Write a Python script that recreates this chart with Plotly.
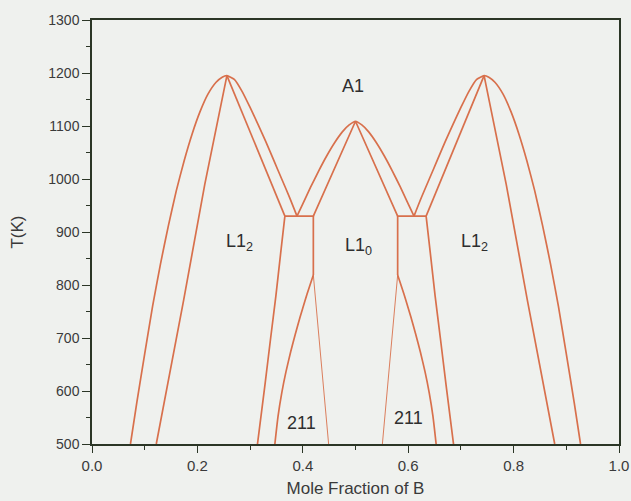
import plotly.graph_objects as go

# ---- data (x = mole fraction of B, T in K) ----
left_dome_x = [0.073, 0.085, 0.100, 0.115, 0.130, 0.145, 0.160, 0.175, 0.190, 0.205, 0.220,
               0.235, 0.247, 0.256, 0.270, 0.285, 0.300, 0.315, 0.330, 0.345, 0.360, 0.375, 0.389]
left_dome_t = [500, 578, 670, 760, 840, 912, 978, 1035, 1085, 1127, 1160,
               1182, 1192, 1195, 1188, 1165, 1135, 1103, 1070, 1035, 1000, 965, 930]

left_inner_l_x = [0.122, 0.174, 0.214, 0.256]
left_inner_l_t = [500, 772, 990, 1195]
left_inner_r_x = [0.256, 0.366]
left_inner_r_t = [1195, 930]

center_dome_x = [0.389, 0.400, 0.415, 0.430, 0.445, 0.460, 0.475, 0.488, 0.500,
                 0.512, 0.525, 0.540, 0.555, 0.570, 0.585, 0.600, 0.611]
center_dome_t = [930, 953, 985, 1015, 1043, 1068, 1089, 1102, 1109,
                 1102, 1089, 1068, 1043, 1015, 985, 953, 930]
center_inner_x = [0.420, 0.500, 0.580]
center_inner_t = [930, 1109, 930]

right_dome_x = [0.611, 0.625, 0.640, 0.655, 0.670, 0.685, 0.700, 0.715, 0.730, 0.744,
                0.753, 0.765, 0.780, 0.795, 0.810, 0.825, 0.840, 0.855, 0.870, 0.885, 0.900, 0.915, 0.927]
right_dome_t = [930, 965, 1000, 1035, 1070, 1103, 1135, 1165, 1188, 1195,
                1192, 1182, 1160, 1127, 1085, 1035, 978, 912, 840, 760, 670, 578, 500]
right_inner_l_x = [0.634, 0.744]
right_inner_l_t = [930, 1195]
right_inner_r_x = [0.744, 0.786, 0.826, 0.878]
right_inner_r_t = [1195, 990, 772, 500]

# three-phase lines at 930 K and the boundaries below them
left_box_x = [0.366, 0.420, 0.420]
left_box_t = [930, 930, 819]
right_box_x = [0.634, 0.580, 0.580]
right_box_t = [930, 930, 819]

left_low_x = [0.366, 0.358, 0.349, 0.339, 0.328, 0.314]
left_low_t = [930, 860, 780, 700, 610, 500]
right_low_x = [0.634, 0.642, 0.651, 0.661, 0.672, 0.686]
right_low_t = [930, 860, 780, 700, 610, 500]

left_211_x = [0.420, 0.412, 0.404, 0.395, 0.386, 0.377, 0.368, 0.360, 0.353, 0.347]
left_211_t = [819, 795, 770, 740, 708, 674, 636, 596, 552, 500]
right_211_x = [0.580, 0.588, 0.596, 0.605, 0.614, 0.623, 0.632, 0.640, 0.647, 0.653]
right_211_t = [819, 795, 770, 740, 708, 674, 636, 596, 552, 500]

left_thin_x = [0.420, 0.449]
left_thin_t = [819, 500]
right_thin_x = [0.580, 0.551]
right_thin_t = [819, 500]

labels = ["A1", "L1<sub>2</sub>", "L1<sub>0</sub>", "L1<sub>2</sub>", "211", "211"]
label_x = [0.496, 0.280, 0.505, 0.725, 0.398, 0.600]
label_t = [1176, 880, 872, 880, 540, 549]

x_ticks = [0.0, 0.2, 0.4, 0.6, 0.8, 1.0]
x_tick_text = ["0.0", "0.2", "0.4", "0.6", "0.8", "1.0"]
y_ticks = [500, 600, 700, 800, 900, 1000, 1100, 1200, 1300]

LINE = "#d8704c"
AXIS = "#2b3626"
BG = "#eff1ee"
FONT = "Liberation Sans, Arial, sans-serif"

fig = go.Figure()

curved = [(left_dome_x, left_dome_t), (center_dome_x, center_dome_t), (right_dome_x, right_dome_t),
          (left_low_x, left_low_t), (right_low_x, right_low_t),
          (left_211_x, left_211_t), (right_211_x, right_211_t)]
for xs, ts in curved:
    fig.add_trace(go.Scatter(x=xs, y=ts, mode="lines",
                             line=dict(color=LINE, width=1.7, shape="spline", smoothing=0.5),
                             hoverinfo="skip", showlegend=False))

straight = [(left_inner_l_x, left_inner_l_t), (right_inner_r_x, right_inner_r_t),
            (left_inner_r_x, left_inner_r_t), (center_inner_x, center_inner_t),
            (right_inner_l_x, right_inner_l_t), (left_box_x, left_box_t), (right_box_x, right_box_t)]
for xs, ts in straight:
    fig.add_trace(go.Scatter(x=xs, y=ts, mode="lines",
                             line=dict(color=LINE, width=1.7),
                             hoverinfo="skip", showlegend=False))

for xs, ts in [(left_thin_x, left_thin_t), (right_thin_x, right_thin_t)]:
    fig.add_trace(go.Scatter(x=xs, y=ts, mode="lines",
                             line=dict(color=LINE, width=0.9),
                             hoverinfo="skip", showlegend=False))

for txt, lx, lt in zip(labels, label_x, label_t):
    fig.add_annotation(x=lx, y=lt, text=txt, showarrow=False,
                       font=dict(family=FONT, size=18, color="#2e2e2e"))

fig.update_layout(
    width=631, height=501,
    margin=dict(l=92, r=12, t=20, b=57, autoexpand=False),
    paper_bgcolor=BG, plot_bgcolor=BG,
    font=dict(family=FONT, color="#333333"),
    showlegend=False,
)
fig.update_xaxes(
    range=[0, 1], tickvals=x_ticks, ticktext=x_tick_text, automargin=False,
    showgrid=False, zeroline=False,
    showline=True, linecolor=AXIS, linewidth=1.5, mirror=True,
    ticks="outside", ticklen=7, tickwidth=1.3, tickcolor=AXIS,
    minor=dict(dtick=0.1, ticks="outside", ticklen=4, tickwidth=1.2, tickcolor=AXIS, showgrid=False),
    tickfont=dict(size=15, color="#3a3a3a"),
    title=dict(text="Mole Fraction of B", font=dict(size=17, color="#3a3a3a"), standoff=9),
)
fig.update_yaxes(
    range=[500, 1300], tickvals=y_ticks, automargin=False,
    showgrid=False, zeroline=False,
    showline=True, linecolor=AXIS, linewidth=1.5, mirror=True,
    ticks="outside", ticklen=8, tickwidth=1.3, tickcolor=AXIS,
    minor=dict(dtick=50, ticks="outside", ticklen=4, tickwidth=1.2, tickcolor=AXIS, showgrid=False),
    tickfont=dict(size=14, color="#3a3a3a"),
    title=dict(text="T(K)", font=dict(size=17, color="#3a3a3a"), standoff=20),
)

fig.write_html(
    "out.html",
    config={"displayModeBar": False},
    post_script="document.body.style.margin='0';document.documentElement.style.overflow='hidden';",
)
